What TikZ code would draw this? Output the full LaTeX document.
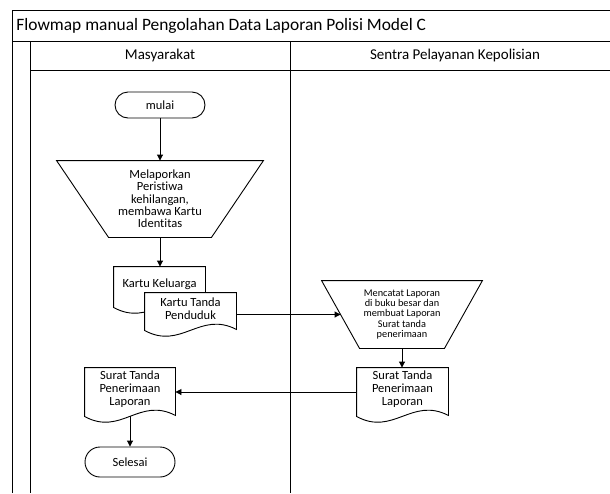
\documentclass[tikz,border=0pt]{standalone}
\usepackage{fontspec}
\setmainfont{Carlito}[Ligatures=NoCommon]
\usetikzlibrary{arrows.meta,calc,shapes.misc}

% document symbol: an empty box that carries the anchors, its outline with
% the wavy lower edge, then the text on top
\newcommand\docnode[5]{%
  \node[docbox, minimum width=#3, minimum height=#4] (#1) at #2 {};
  \draw[fill=white] (#1.north west) -- (#1.north east)
    -- ($(#1.south east)+(0,-1)$)
    .. controls ($(#1.south east)!0.4!(#1.south west)+(0,-20)$)
           and ($(#1.south west)!0.4!(#1.south east)+(0,20)$) .. (#1.south west)
    -- cycle;
  \node[doctext] (#1-text) at ($(#1.center)+(0,-2.5)$) {#5};
}

% manual operation: the node is as wide as the shape at mid height,
% the outline widens by #2 at the top and narrows by #2 at the bottom
\newcommand\manualop[2]{%
  \draw ($(#1.north west)+(-#2,0)$) -- ($(#1.north east)+(#2,0)$)
    -- ($(#1.south east)+(-#2,0)$) -- ($(#1.south west)+(#2,0)$) -- cycle;
}

\begin{document}
\begin{tikzpicture}[x=1pt, y=-1pt, line width=0.9pt,
  flow/.style={-{Triangle[length=6pt,width=6pt]}},
  term/.style={draw, rounded rectangle, inner sep=0pt,
    minimum width=90pt, font=\fontsize{12.5}{13}\selectfont},
  docbox/.style={inner sep=0pt, draw=none},
  doctext/.style={align=center, inner sep=0pt, font=\fontsize{12.5}{13}\selectfont},
  opbox/.style={inner sep=0pt, align=center},
  lanehead/.style={font=\fontsize{15}{16}\selectfont}
]
\useasboundingbox (0,0) rectangle (610,493);

% pool frame and swimlanes
\draw (12,493) -- (12,10) -- (610,10);
\draw (12,41) -- (610,41);
\draw (30,41) -- (30,493);
\draw (30,70) -- (610,70);
\draw (290,41) -- (290,493);

\node[anchor=west, inner sep=0pt, font=\fontsize{17.4}{19}\selectfont]
  (title) at (16,25.5) {Flowmap manual Pengolahan Data Laporan Polisi Model C};
\node[lanehead] (lane1) at (160,55.5) {Masyarakat};
\node[lanehead] (lane2) at (455,55.5) {Sentra Pelayanan Kepolisian};

% Masyarakat
\node[term, minimum height=26pt] (mulai) at (160,105) {mulai};

\node[opbox, minimum width=154pt, minimum height=76pt,
  font=\fontsize{12.5}{12.3}\selectfont] (lapor) at (160,199)
  {Melaporkan\\Peristiwa\\kehilangan,\\membawa Kartu\\Identitas};
\manualop{lapor}{26}

\docnode{kk}{(159.5,287)}{91pt}{40pt}{Kartu Keluarga}
\docnode{ktp}{(190.5,311.5)}{91pt}{37pt}{Kartu Tanda\\Penduduk}

\docnode{stpl}{(130,392)}{90pt}{48pt}{Surat Tanda\\Penerimaan\\Laporan}

\node[term, minimum height=30pt] (selesai) at (130,462) {Selesai};

% Sentra Pelayanan Kepolisian
\node[opbox, minimum width=122pt, minimum height=67pt,
  font=\fontsize{10.3}{10.3}\selectfont] (catat) at (402,314.5)
  {Mencatat Laporan\\di buku besar dan\\membuat Laporan\\Surat tanda\\penerimaan};
\manualop{catat}{19}

\docnode{stpk}{(402.5,392)}{91pt}{48pt}{Surat Tanda\\Penerimaan\\Laporan}

% flow
\draw[flow] (mulai.south) -- (lapor.north);
\draw[flow] (lapor.south) -- (lapor.south |- kk.north);
\draw[flow] (ktp.east |- catat.west) -- (catat.west);
\draw[flow] (catat.south) -- (catat.south |- stpk.north);
\draw[flow] (stpk.west) -- (stpl.east);
\draw[flow] (stpl.south) -- (selesai.north);
\end{tikzpicture}
\end{document}
